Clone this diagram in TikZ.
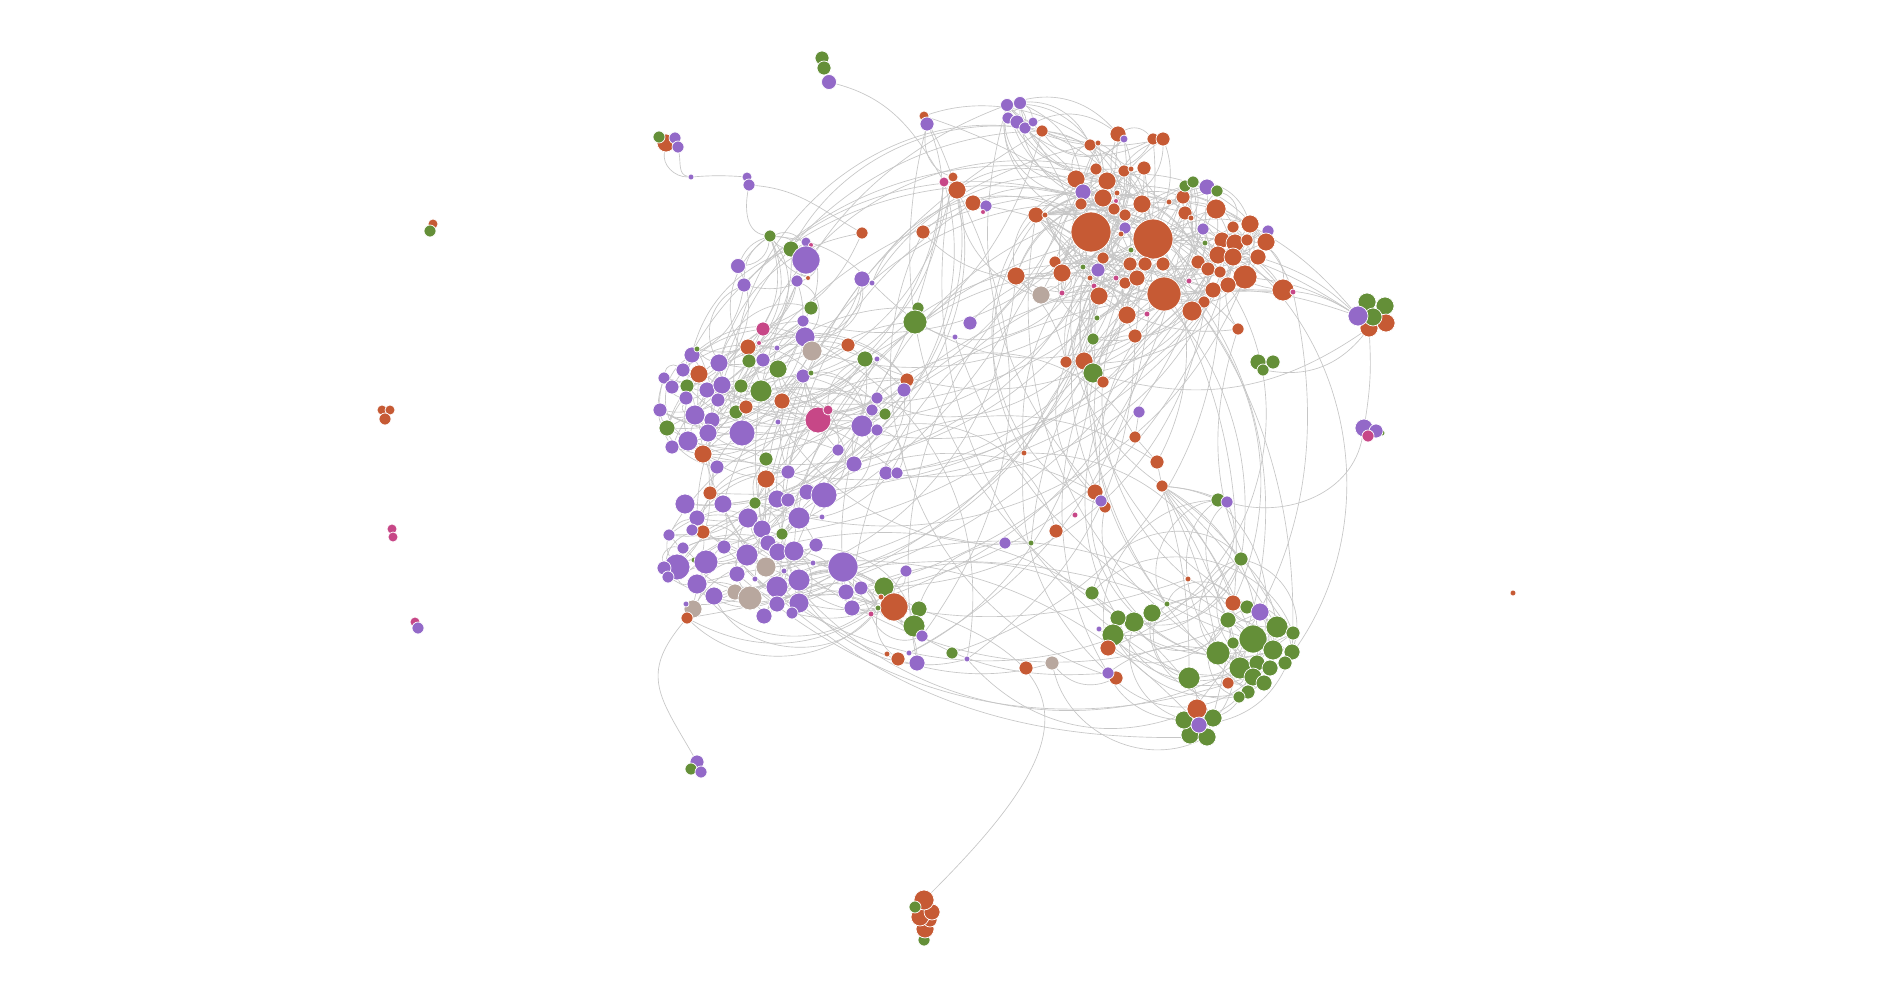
\documentclass[tikz,border=0pt]{standalone}
\usepackage{tikz}
\usetikzlibrary{backgrounds}
\definecolor{orng}{HTML}{C65A34}
\definecolor{purp}{HTML}{9369C8}
\definecolor{grn}{HTML}{648F38}
\definecolor{pink}{HTML}{C74787}
\definecolor{taup}{HTML}{B8A79E}
\definecolor{edgegray}{HTML}{C6C6C6}
\tikzset{
    %Define style for the dots
    vertex/.style={
           circle,
           draw=white, line width=0.7pt,
           inner sep=0pt,
           fill=#1},
    % Define style for the links
    link/.style={
           draw=edgegray,
           line width=0.65pt}
}

\begin{document}
\begin{tikzpicture}[x=1pt,y=1pt]
\useasboundingbox (0,0) rectangle (1896,-1000);
% left group
\foreach \x/\y/\r/\c [count=\i] in {770/236/6/grn, 791/249/8/grn, 806/242/5/purp, 811/245/2.5/pink, 806/260/14/purp,
  797/281/6/purp, 808/278/2.5/orng, 862/233/6/orng, 738/266/7.5/purp, 744/285/7/purp,
  862/279/8/purp, 872/283/3/purp, 811/308/7/grn, 803/321/6/purp, 805/337/10/purp,
  812/351/10/taup, 763/329/7/pink, 759/343/2.5/pink, 748/347/8/orng, 777/348/3/purp,
  749/361/7/grn, 763/360/7/purp, 719/363/9/purp, 692/355/8/purp, 697/349/3/grn,
  699/374/9/orng, 683/370/7/purp, 664/378/6/purp, 672/387/7/purp, 687/386/7/grn,
  686/398/7/purp, 660/410/7/purp, 667/428/8/grn, 695/415/10/purp, 707/390/8/purp,
  722/385/9/purp, 718/400/7/purp, 741/386/7/grn, 761/391/11/grn, 778/369/9/grn,
  782/401/8/orng, 736/412/7/grn, 746/407/7/orng, 742/433/13/purp, 712/420/8/purp,
  708/433/9/purp, 688/441/10/purp, 672/447/7/purp, 703/454/9/orng, 717/467/7/purp,
  778/422/3/purp, 848/345/7/orng, 865/359/8/grn, 877/359/3/purp, 803/376/7/purp,
  811/373/3/grn, 818/420/13/pink, 828/410/5/pink, 907/380/7/orng, 904/390/7/purp,
  877/398/6/purp, 872/410/6/purp, 862/426/11/purp, 877/430/6/purp, 885/414/6/grn,
  838/450/6/purp, 854/464/8/purp, 886/473/7/purp, 897/473/6/purp, 766/459/7/grn,
  766/479/9/orng, 788/472/7/purp, 710/493/7/orng, 685/504/10/purp, 723/504/9/purp,
  755/503/6/grn, 777/499/9/purp, 788/500/7/purp, 807/492/8/purp, 824/495/13/purp,
  697/518/8/purp, 703/532/7/orng, 692/530/6/purp, 669/535/6/purp, 748/518/10/purp,
  762/529/9/purp, 782/534/6/grn, 799/518/11/purp, 822/517/3/purp, 724/547/7/purp,
  683/548/6/purp, 747/555/11/purp, 768/543/8/purp, 778/552/9/purp, 794/551/10/purp,
  816/545/7/purp, 677/567/13/purp, 664/568/7/purp, 668/577/6/purp, 694/560/3/grn,
  706/562/12/purp, 766/567/10/taup, 784/571/3/purp, 813/563/3/purp, 843/567/15/purp,
  737/574/8/purp, 697/584/10/purp, 714/596/9/purp, 777/587/11/purp, 799/580/11/purp,
  755/579/3/purp, 735/592/8/taup, 750/598/12/taup, 846/592/8/purp, 861/588/7/purp,
  777/604/8/purp, 799/603/10/purp, 792/613/6/purp, 764/616/8/purp, 693/609/9/taup,
  686/604/3/purp, 687/618/6/orng, 852/608/8/purp, 906/571/6/purp, 884/587/10/grn,
  894/607/14/orng, 919/609/8/grn, 914/626/11/grn, 922/636/6/purp, 871/614/3/pink,
  881/597/3/orng, 878/608/3/grn}
  \node[vertex=\c, minimum size=2*\r pt] (l\i) at (\x,-\y) {};
% orange group
\foreach \x/\y/\r/\c [count=\i] in {1007/105/6.5/purp, 1020/103/6.5/purp, 1008/118/6/purp, 1017/122/7/purp, 1025/128/6/purp,
  1033/122/5/purp, 1042/131/6/orng, 1118/134/8/orng, 1124/139/4/purp, 1090/145/6/orng,
  1098/143/3/orng, 1153/139/6/orng, 1163/139/7/orng, 1076/179/9/orng, 1096/169/6/orng,
  1107/181/9/orng, 1083/192/8/purp, 1103/198/9/orng, 1081/204/6/orng, 1117/193/3/orng,
  1116/201/2.5/pink, 1114/209/6/orng, 1125/215/6/orng, 1124/171/6/orng, 1131/169/3/orng,
  1144/168/7/orng, 1142/204/9/orng, 1125/228/6/purp, 1121/234/3/orng, 1091/232/20/orng,
  1153/239/20/orng, 1131/250/3/grn, 1103/258/6/orng, 1055/262/6/orng, 1062/273/9/orng,
  1083/267/3/grn, 1098/270/7/purp, 1090/278/3/orng, 1094/286/3/pink, 1016/276/9/orng,
  1041/295/9/taup, 1062/293/3/pink, 1099/296/9/orng, 1130/264/7/orng, 1145/264/7/orng,
  1163/264/7/orng, 1125/283/6/orng, 1137/278/8/orng, 1116/278/3/pink, 1164/294/17/orng,
  1127/315/9/orng, 1147/314/3/pink, 1135/336/7/orng, 1097/318/3/grn, 1093/339/6/grn,
  1066/362/6/orng, 1084/361/9/orng, 1093/373/10/grn, 1103/382/6/orng, 1169/202/3/orng,
  1183/197/7/orng, 1185/213/7/orng, 1191/218/3/orng, 1185/186/6/grn, 1193/182/6/grn,
  1207/187/8/purp, 1217/191/6/grn, 1216/209/10/orng, 1203/229/6/purp, 1205/243/3/grn,
  1233/227/6/orng, 1250/224/9/orng, 1268/231/6/purp, 1222/240/8/orng, 1235/243/9/orng,
  1247/240/6/orng, 1218/255/9/orng, 1233/257/9/orng, 1198/262/7/orng, 1208/269/7/orng,
  1220/272/6/orng, 1258/257/8/orng, 1266/242/9/orng, 1245/277/12/orng, 1228/285/8/orng,
  1213/290/8/orng, 1204/302/6/orng, 1192/311/10/orng, 1189/281/3/pink, 1283/290/11/orng,
  1293/292/3/pink, 1238/329/6/orng, 1036/215/8/orng, 1045/215/3/orng}
  \node[vertex=\c, minimum size=2*\r pt] (o\i) at (\x,-\y) {};
% green group
\foreach \x/\y/\r/\c [count=\i] in {1218/500/7/grn, 1227/502/6/purp, 1241/559/7/grn, 1233/603/8/orng, 1247/607/7/grn,
  1260/612/9/purp, 1228/620/8/grn, 1253/639/14/grn, 1277/627/11/grn, 1293/633/7/grn,
  1233/643/6/grn, 1218/653/12/grn, 1273/650/10/grn, 1292/652/8/grn, 1240/668/11/grn,
  1257/663/8/grn, 1270/668/8/grn, 1253/677/9/grn, 1285/663/7/grn, 1264/683/8/grn,
  1248/692/7/grn, 1239/697/6/grn, 1228/683/6/orng, 1189/678/11/grn, 1190/735/9/grn,
  1207/737/9/grn, 1184/720/9/grn, 1213/718/9/grn, 1197/709/10/orng, 1199/725/8/purp,
  1188/579/3/orng, 1167/604/3/grn, 1152/613/9/grn, 1134/622/10/grn, 1118/618/8/grn,
  1113/635/11/grn, 1099/629/3/purp, 1108/648/8/orng, 1116/678/7/orng, 1108/673/6/purp,
  1092/593/7/grn}
  \node[vertex=\c, minimum size=2*\r pt] (g\i) at (\x,-\y) {};
% middle
\foreach \x/\y/\r/\c [count=\i] in {1139/412/6/purp, 1135/437/6/orng, 1157/462/7/orng, 1162/486/6/orng, 1024/453/3/orng,
  1095/492/8/orng, 1105/507/6/orng, 1101/501/6/purp, 1075/515/3/pink, 1056/531/7/orng,
  1005/543/6/purp, 1031/543/3/grn, 1026/668/7/orng, 1052/663/7/taup, 887/654/3/orng,
  898/659/7/orng, 909/653/3/purp, 917/663/8/purp, 952/653/6/grn, 967/659/3/purp,
  918/308/6/grn, 915/322/12/grn, 970/323/7/purp, 955/337/3/purp, 944/182/5/pink,
  953/177/5/orng, 957/190/9/orng, 973/203/8/orng, 986/206/6/purp, 983/212/2.5/pink,
  923/232/7/orng, 924/116/5/orng, 927/124/7/purp}
  \node[vertex=\c, minimum size=2*\r pt] (m\i) at (\x,-\y) {};
% right
\foreach \x/\y/\r/\c [count=\i] in {1367/302/9/grn, 1385/306/9/grn, 1369/328/9/orng, 1386/323/9/orng, 1373/317/9/grn,
  1358/316/10/purp, 1258/362/8/grn, 1273/362/7/grn, 1263/370/6/grn, 1364/428/9/purp,
  1382/433/3/grn, 1376/431/7/purp, 1368/436/6/pink, 1513/593/3/orng}
  \node[vertex=\c, minimum size=2*\r pt] (r\i) at (\x,-\y) {};
% top
\foreach \x/\y/\r/\c [count=\i] in {822/58/7/grn, 824/68/7/grn, 831/86/2/pink, 829/82/7.5/purp, 666/143/9/orng,
  659/137/6/grn, 675/138/6/purp, 678/147/6/purp, 691/177/3/purp, 747/177/5/purp,
  749/185/6/purp}
  \node[vertex=\c, minimum size=2*\r pt] (t\i) at (\x,-\y) {};
% bottom
\foreach \x/\y/\r/\c [count=\i] in {924/940/6/grn, 925/929/9/orng, 930/920/7/orng, 920/917/9/orng, 932/912/8/orng,
  924/900/10/orng, 915/907/6/grn}
  \node[vertex=\c, minimum size=2*\r pt] (b\i) at (\x,-\y) {};
\foreach \x/\y/\r/\c [count=\i] in {697/762/7/purp, 691/769/6/grn, 701/772/6/purp}
  \node[vertex=\c, minimum size=2*\r pt] (d\i) at (\x,-\y) {};
% loose ones
\foreach \x/\y/\r/\c [count=\i] in {433/224/5/orng, 430/231/6/grn, 382/410/5/orng, 390/410/5/orng, 385/419/6/orng,
  392/529/5/pink, 393/537/5/pink, 415/622/5/pink, 418/628/6/purp}
  \node[vertex=\c, minimum size=2*\r pt] (s\i) at (\x,-\y) {};

\begin{scope}[on background layer]
\fill[white] (0,0) rectangle (1896,-1000);
\pgfmathsetseed{17}
% links inside the groups
\foreach \k in {1,...,230}{
  \pgfmathtruncatemacro\pa{random(1,132)}
  \pgfmathtruncatemacro\pb{max(1,min(132,\pa+random(0,60)-30))}
  \pgfmathtruncatemacro\pw{random(15,60)*(2*random(0,1)-1)}
  \ifnum\pa=\pb\else\draw[link] (l\pa) to[bend left=\pw] (l\pb);\fi
}
\foreach \k in {1,...,190}{
  \pgfmathtruncatemacro\pa{random(1,94)}
  \pgfmathtruncatemacro\pb{max(1,min(94,\pa+random(0,50)-25))}
  \pgfmathtruncatemacro\pw{random(15,60)*(2*random(0,1)-1)}
  \ifnum\pa=\pb\else\draw[link] (o\pa) to[bend left=\pw] (o\pb);\fi
}
\foreach \k in {1,...,55}{
  \pgfmathtruncatemacro\pa{random(1,41)}
  \pgfmathtruncatemacro\pb{random(1,41)}
  \pgfmathtruncatemacro\pw{random(20,70)*(2*random(0,1)-1)}
  \ifnum\pa=\pb\else\draw[link] (g\pa) to[bend left=\pw] (g\pb);\fi
}
% links between the groups
\foreach \k in {1,...,50}{
  \pgfmathtruncatemacro\pa{random(1,132)}
  \pgfmathtruncatemacro\pb{random(1,94)}
  \pgfmathtruncatemacro\pw{random(25,55)*(2*random(0,1)-1)}
  \draw[link] (l\pa) to[bend left=\pw] (o\pb);
}
\foreach \k in {1,...,22}{
  \pgfmathtruncatemacro\pa{random(1,132)}
  \pgfmathtruncatemacro\pb{random(1,33)}
  \pgfmathtruncatemacro\pw{random(25,55)*(2*random(0,1)-1)}
  \draw[link] (l\pa) to[bend left=\pw] (m\pb);
}
\foreach \k in {1,...,24}{
  \pgfmathtruncatemacro\pa{random(1,94)}
  \pgfmathtruncatemacro\pb{random(1,33)}
  \pgfmathtruncatemacro\pw{random(25,55)*(2*random(0,1)-1)}
  \draw[link] (o\pa) to[bend left=\pw] (m\pb);
}
\foreach \k in {1,...,14}{
  \pgfmathtruncatemacro\pa{random(1,41)}
  \pgfmathtruncatemacro\pb{random(1,94)}
  \pgfmathtruncatemacro\pw{random(25,50)*(2*random(0,1)-1)}
  \draw[link] (g\pa) to[bend left=\pw] (o\pb);
}
\foreach \k in {1,...,14}{
  \pgfmathtruncatemacro\pa{random(1,41)}
  \pgfmathtruncatemacro\pb{random(1,33)}
  \pgfmathtruncatemacro\pw{random(25,60)*(2*random(0,1)-1)}
  \draw[link] (g\pa) to[bend left=\pw] (m\pb);
}
\foreach \k in {1,...,12}{
  \pgfmathtruncatemacro\pa{random(1,41)}
  \pgfmathtruncatemacro\pb{random(90,132)}
  \pgfmathtruncatemacro\pw{random(20,45)*(2*random(0,1)-1)}
  \draw[link] (g\pa) to[bend left=\pw] (l\pb);
}
% fans and single long links
\foreach \n in {1,2,3,8,9,12,15,24}
  \draw[link] (m4) to[bend left=8] (g\n);
\draw[link] (m1) -- (m2) (m2) -- (m3) (m3) -- (m4);
\foreach \n in {31,50,68,82,84,90}
  \draw[link] (r6) to[bend right=12] (o\n);
\draw[link] (r3) to[bend left=25] (o58);
\draw[link] (r3) to[bend left=30] (r9);
\draw[link] (r3) to[bend left=6] (r10);
\draw[link] (r10) to[out=-100,in=-15] (g2);
\draw[link] (t4) to[out=-15,in=120] (m25);
\draw[link] (t5) to[out=-100,in=180] (t9);
\draw[link] (t8) to[out=-80,in=170] (t9);
\draw[link] (t9) to[bend left=4] (t10);
\draw[link] (t11) to[out=-5,in=150] (l8);
\draw[link] (t11) to[out=-100,in=170] (l1);
\draw[link] (m33) to[out=-100,in=160] (m26);
\draw[link] (m32) to[out=-60,in=110] (m27);
\draw[link] (b6) to[out=45,in=-20,looseness=1.7] (l127);
\draw[link] (l122) to[out=-130,in=120,looseness=1.3] (d1);
\end{scope}
\end{tikzpicture}
\end{document}
